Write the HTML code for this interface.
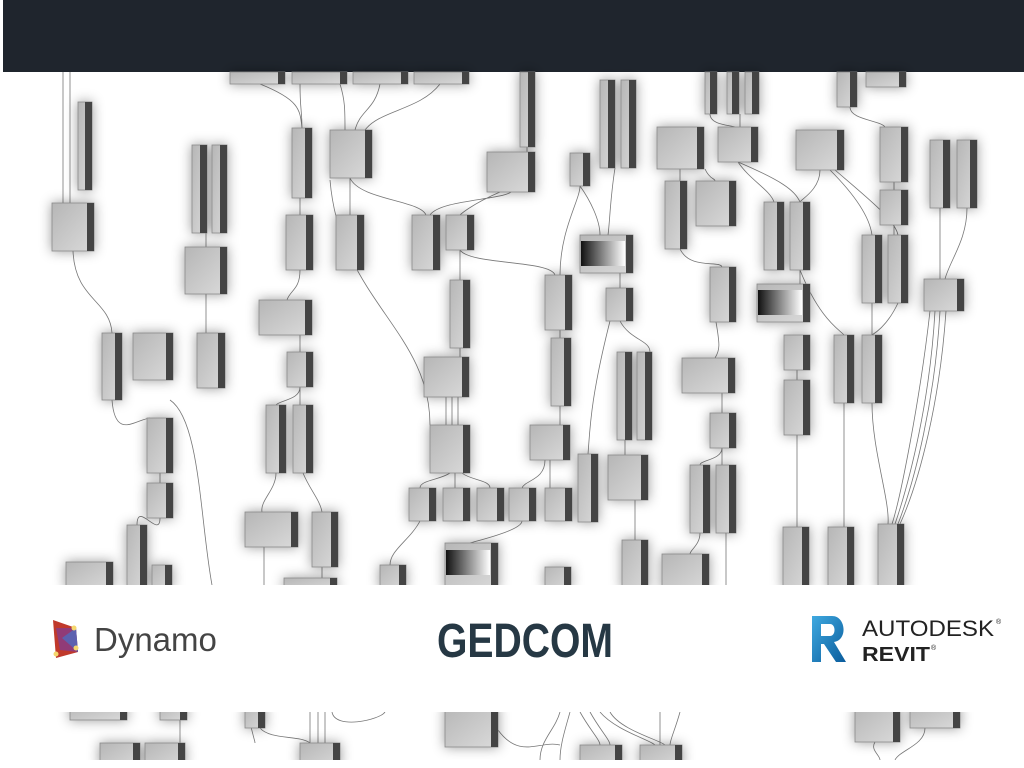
<!DOCTYPE html>
<html><head><meta charset="utf-8"><style>
html,body{margin:0;padding:0;background:#fff;width:1024px;height:768px;overflow:hidden;font-family:"Liberation Sans",sans-serif}
</style></head><body>
<svg width="1024" height="768" viewBox="0 0 1024 768" xmlns="http://www.w3.org/2000/svg">
<defs>
<linearGradient id="g" x1="0" y1="0" x2="1" y2="1"><stop offset="0" stop-color="#b6b6b6"/><stop offset="1" stop-color="#dadada"/></linearGradient>
<linearGradient id="bw" x1="0" y1="0" x2="1" y2="0"><stop offset="0" stop-color="#111"/><stop offset="1" stop-color="#fff"/></linearGradient>
<filter id="s" x="-50%" y="-50%" width="200%" height="200%"><feDropShadow dx="0" dy="0" stdDeviation="6" flood-color="#000" flood-opacity="0.4"/></filter>
<linearGradient id="rv" x1="0" y1="0" x2="1" y2="1"><stop offset="0" stop-color="#3fa9e0"/><stop offset="1" stop-color="#0a5c9c"/></linearGradient>
</defs>
<rect x="3" y="0" width="1021" height="72" fill="#1f252d"/>
<g fill="none" stroke="#777" stroke-width="0.8">
<path d="M63 72V203M70 72V203"/>
<path d="M73 251C75 300 110 300 112 333M206 233V247M206 294V333M112 400C115 440 135 420 150 418M160 473V483M160 518C160 540 137 500 137 525M170 400C200 420 200 520 212 585"/>
<path d="M300 84C300 110 302 110 302 128M260 84C300 100 300 110 302 128M340 84C345 100 345 110 345 130M380 84C375 110 360 110 355 130M440 84C420 110 380 110 365 130M300 198V215M350 178V215M350 178C360 200 420 200 426 215M300 270C300 290 290 290 287 300M300 335V352M300 387C300 400 280 400 276 405M300 387V405M276 473C276 490 260 500 262 512M303 473C310 490 320 500 322 512M264 547V585M322 567V585M330 180C340 300 430 330 430 425"/>
<path d="M527 147V152M511 192C500 200 440 200 430 215M500 192C470 205 460 215 460 215M460 250C460 270 460 270 460 280M460 250C470 265 550 260 555 275M460 348V357M446 397V425M452 397V425M458 397V425M450 473C440 480 420 480 420 488M455 473V488M462 473C470 480 490 480 490 488M545 460C545 480 525 480 522 488M550 460V488M522 521C522 530 480 540 470 543M420 521C410 540 390 550 390 565M580 186C580 200 560 230 560 275M560 330V338M560 406V425M580 186C590 200 600 220 600 235M615 168C610 200 610 220 608 235M620 273V288M620 321C630 340 650 340 650 352M610 321C590 400 590 430 588 454M625 440V455M635 500V540"/>
<path d="M680 169V181M710 114C710 125 730 125 735 127M740 114V127M705 169C710 180 715 178 715 181M738 162C750 180 770 190 774 202M738 162C780 180 795 190 800 202M680 249C690 270 720 260 722 267M716 322C720 345 720 350 715 358M722 393V413M722 448C722 460 700 460 700 465M722 448V465M820 170C820 190 800 200 800 202M830 170C860 200 870 220 872 235M835 170C870 200 895 220 898 235M894 182V190M894 225V235M850 107C850 120 880 120 885 127M800 270V284M800 270C820 320 840 330 844 335M872 303V335M898 303C890 320 880 330 872 335M797 370V380M940 208V279M967 208C967 240 950 260 945 279M930 311C920 400 900 500 892 524M935 311C930 400 910 480 895 524M940 311C935 400 915 480 898 524M946 311C940 400 920 480 900 524M797 435V527M844 403V527M872 403C872 450 890 500 888 524M700 533C700 545 690 550 690 554M726 533V585"/>
<path d="M180 720V743M250 720C252 735 255 740 255 743M260 728C270 740 300 735 310 743M310 712V743M318 712V743M325 712V743M332 712C335 730 380 720 385 712M560 712C555 730 540 740 540 760M570 712C565 730 560 745 560 760M580 712C590 730 600 740 600 745M590 712C600 730 610 740 610 745M600 712C615 730 650 740 655 745M610 712C620 730 660 740 665 745M660 712V745M680 712C675 730 670 740 670 745M875 742C870 750 880 755 880 760M925 728C925 745 900 750 895 760M498 730C520 760 540 740 560 745"/>
</g>
<g stroke="#8a8a8a" stroke-width="0.8" filter="url(#s)">
<rect x="78" y="102" width="14" height="88" fill="url(#g)"/><rect x="52" y="203" width="42" height="48" fill="url(#g)"/>
<rect x="230" y="72" width="55" height="12" fill="url(#g)"/><rect x="292" y="72" width="55" height="12" fill="url(#g)"/><rect x="353" y="72" width="55" height="12" fill="url(#g)"/><rect x="414" y="72" width="55" height="12" fill="url(#g)"/>
<rect x="292" y="128" width="20" height="70" fill="url(#g)"/><rect x="330" y="130" width="42" height="48" fill="url(#g)"/>
<rect x="520" y="72" width="15" height="75" fill="url(#g)"/><rect x="487" y="152" width="48" height="40" fill="url(#g)"/><rect x="570" y="153" width="20" height="33" fill="url(#g)"/>
<rect x="600" y="80" width="15" height="88" fill="url(#g)"/><rect x="621" y="80" width="15" height="88" fill="url(#g)"/>
<rect x="705" y="72" width="12" height="42" fill="url(#g)"/><rect x="727" y="72" width="12" height="42" fill="url(#g)"/><rect x="745" y="72" width="14" height="42" fill="url(#g)"/>
<rect x="657" y="127" width="47" height="42" fill="url(#g)"/><rect x="718" y="127" width="40" height="35" fill="url(#g)"/>
<rect x="837" y="72" width="20" height="35" fill="url(#g)"/><rect x="866" y="72" width="40" height="15" fill="url(#g)"/>
<rect x="880" y="127" width="28" height="55" fill="url(#g)"/><rect x="930" y="140" width="20" height="68" fill="url(#g)"/><rect x="957" y="140" width="20" height="68" fill="url(#g)"/>
<rect x="796" y="130" width="48" height="40" fill="url(#g)"/>
<rect x="192" y="145" width="15" height="88" fill="url(#g)"/><rect x="212" y="145" width="15" height="88" fill="url(#g)"/><rect x="185" y="247" width="42" height="47" fill="url(#g)"/>
<rect x="286" y="215" width="27" height="55" fill="url(#g)"/><rect x="336" y="215" width="28" height="55" fill="url(#g)"/><rect x="412" y="215" width="28" height="55" fill="url(#g)"/><rect x="446" y="215" width="28" height="35" fill="url(#g)"/>
<rect x="665" y="181" width="22" height="68" fill="url(#g)"/><rect x="696" y="181" width="40" height="45" fill="url(#g)"/>
<rect x="580" y="235" width="53" height="38" fill="url(#g)"/>
<rect x="545" y="275" width="27" height="55" fill="url(#g)"/><rect x="606" y="288" width="27" height="33" fill="url(#g)"/><rect x="450" y="280" width="20" height="68" fill="url(#g)"/>
<rect x="764" y="202" width="20" height="68" fill="url(#g)"/><rect x="790" y="202" width="20" height="68" fill="url(#g)"/><rect x="880" y="190" width="28" height="35" fill="url(#g)"/>
<rect x="862" y="235" width="20" height="68" fill="url(#g)"/><rect x="888" y="235" width="20" height="68" fill="url(#g)"/>
<rect x="757" y="284" width="53" height="38" fill="url(#g)"/><rect x="710" y="267" width="26" height="55" fill="url(#g)"/><rect x="924" y="279" width="40" height="32" fill="url(#g)"/>
<rect x="102" y="333" width="20" height="67" fill="url(#g)"/><rect x="133" y="333" width="40" height="47" fill="url(#g)"/><rect x="197" y="333" width="28" height="55" fill="url(#g)"/>
<rect x="259" y="300" width="53" height="35" fill="url(#g)"/><rect x="287" y="352" width="26" height="35" fill="url(#g)"/><rect x="424" y="357" width="45" height="40" fill="url(#g)"/>
<rect x="551" y="338" width="20" height="68" fill="url(#g)"/><rect x="682" y="358" width="53" height="35" fill="url(#g)"/><rect x="784" y="335" width="26" height="35" fill="url(#g)"/>
<rect x="834" y="335" width="20" height="68" fill="url(#g)"/><rect x="862" y="335" width="20" height="68" fill="url(#g)"/><rect x="784" y="380" width="26" height="55" fill="url(#g)"/>
<rect x="617" y="352" width="15" height="88" fill="url(#g)"/><rect x="637" y="352" width="15" height="88" fill="url(#g)"/>
<rect x="266" y="405" width="20" height="68" fill="url(#g)"/><rect x="293" y="405" width="20" height="68" fill="url(#g)"/><rect x="147" y="418" width="26" height="55" fill="url(#g)"/>
<rect x="430" y="425" width="40" height="48" fill="url(#g)"/><rect x="530" y="425" width="40" height="35" fill="url(#g)"/><rect x="710" y="413" width="26" height="35" fill="url(#g)"/>
<rect x="578" y="454" width="20" height="68" fill="url(#g)"/><rect x="608" y="455" width="40" height="45" fill="url(#g)"/><rect x="147" y="483" width="26" height="35" fill="url(#g)"/>
<rect x="690" y="465" width="20" height="68" fill="url(#g)"/><rect x="716" y="465" width="20" height="68" fill="url(#g)"/>
<rect x="409" y="488" width="27" height="33" fill="url(#g)"/><rect x="443" y="488" width="27" height="33" fill="url(#g)"/><rect x="477" y="488" width="27" height="33" fill="url(#g)"/><rect x="509" y="488" width="27" height="33" fill="url(#g)"/><rect x="545" y="488" width="27" height="33" fill="url(#g)"/>
<rect x="245" y="512" width="53" height="35" fill="url(#g)"/><rect x="312" y="512" width="26" height="55" fill="url(#g)"/><rect x="127" y="525" width="20" height="65" fill="url(#g)"/>
<rect x="152" y="565" width="20" height="25" fill="url(#g)"/><rect x="66" y="562" width="47" height="28" fill="url(#g)"/><rect x="284" y="578" width="53" height="12" fill="url(#g)"/>
<rect x="380" y="565" width="26" height="25" fill="url(#g)"/><rect x="445" y="543" width="53" height="47" fill="url(#g)"/><rect x="545" y="567" width="26" height="23" fill="url(#g)"/>
<rect x="622" y="540" width="26" height="50" fill="url(#g)"/><rect x="662" y="554" width="47" height="36" fill="url(#g)"/>
<rect x="783" y="527" width="26" height="63" fill="url(#g)"/><rect x="828" y="527" width="26" height="63" fill="url(#g)"/><rect x="878" y="524" width="26" height="66" fill="url(#g)"/>
<rect x="70" y="705" width="57" height="15" fill="url(#g)"/><rect x="160" y="705" width="27" height="15" fill="url(#g)"/><rect x="245" y="705" width="20" height="23" fill="url(#g)"/>
<rect x="445" y="705" width="53" height="42" fill="url(#g)"/><rect x="855" y="705" width="45" height="37" fill="url(#g)"/><rect x="910" y="705" width="50" height="23" fill="url(#g)"/>
<rect x="100" y="743" width="40" height="25" fill="url(#g)"/><rect x="145" y="743" width="40" height="25" fill="url(#g)"/><rect x="300" y="743" width="40" height="25" fill="url(#g)"/>
<rect x="580" y="745" width="42" height="23" fill="url(#g)"/><rect x="640" y="745" width="42" height="23" fill="url(#g)"/>
</g>
<g fill="url(#bw)"><rect x="581" y="241" width="44" height="25"/><rect x="758" y="290" width="44" height="25"/><rect x="446" y="550" width="44" height="25"/></g>
<g fill="#444">
<rect x="85" y="102" width="7" height="88"/><rect x="87" y="203" width="7" height="48"/>
<rect x="278" y="72" width="7" height="12"/><rect x="340" y="72" width="7" height="12"/><rect x="401" y="72" width="7" height="12"/><rect x="462" y="72" width="7" height="12"/>
<rect x="305" y="128" width="7" height="70"/><rect x="365" y="130" width="7" height="48"/><rect x="528" y="72" width="7" height="75"/><rect x="528" y="152" width="7" height="40"/><rect x="583" y="153" width="7" height="33"/>
<rect x="608" y="80" width="7" height="88"/><rect x="629" y="80" width="7" height="88"/><rect x="710" y="72" width="7" height="42"/><rect x="732" y="72" width="7" height="42"/><rect x="752" y="72" width="7" height="42"/>
<rect x="697" y="127" width="7" height="42"/><rect x="751" y="127" width="7" height="35"/><rect x="850" y="72" width="7" height="35"/><rect x="899" y="72" width="7" height="15"/>
<rect x="901" y="127" width="7" height="55"/><rect x="943" y="140" width="7" height="68"/><rect x="970" y="140" width="7" height="68"/><rect x="837" y="130" width="7" height="40"/>
<rect x="200" y="145" width="7" height="88"/><rect x="220" y="145" width="7" height="88"/><rect x="220" y="247" width="7" height="47"/>
<rect x="306" y="215" width="7" height="55"/><rect x="357" y="215" width="7" height="55"/><rect x="433" y="215" width="7" height="55"/><rect x="467" y="215" width="7" height="35"/>
<rect x="680" y="181" width="7" height="68"/><rect x="729" y="181" width="7" height="45"/><rect x="626" y="235" width="7" height="38"/>
<rect x="565" y="275" width="7" height="55"/><rect x="626" y="288" width="7" height="33"/><rect x="463" y="280" width="7" height="68"/>
<rect x="777" y="202" width="7" height="68"/><rect x="803" y="202" width="7" height="68"/><rect x="901" y="190" width="7" height="35"/>
<rect x="875" y="235" width="7" height="68"/><rect x="901" y="235" width="7" height="68"/><rect x="803" y="284" width="7" height="38"/><rect x="729" y="267" width="7" height="55"/><rect x="957" y="279" width="7" height="32"/>
<rect x="115" y="333" width="7" height="67"/><rect x="166" y="333" width="7" height="47"/><rect x="218" y="333" width="7" height="55"/>
<rect x="305" y="300" width="7" height="35"/><rect x="306" y="352" width="7" height="35"/><rect x="462" y="357" width="7" height="40"/>
<rect x="564" y="338" width="7" height="68"/><rect x="728" y="358" width="7" height="35"/><rect x="803" y="335" width="7" height="35"/>
<rect x="847" y="335" width="7" height="68"/><rect x="875" y="335" width="7" height="68"/><rect x="803" y="380" width="7" height="55"/>
<rect x="625" y="352" width="7" height="88"/><rect x="645" y="352" width="7" height="88"/>
<rect x="279" y="405" width="7" height="68"/><rect x="306" y="405" width="7" height="68"/><rect x="166" y="418" width="7" height="55"/>
<rect x="463" y="425" width="7" height="48"/><rect x="563" y="425" width="7" height="35"/><rect x="729" y="413" width="7" height="35"/>
<rect x="591" y="454" width="7" height="68"/><rect x="641" y="455" width="7" height="45"/><rect x="166" y="483" width="7" height="35"/>
<rect x="703" y="465" width="7" height="68"/><rect x="729" y="465" width="7" height="68"/>
<rect x="429" y="488" width="7" height="33"/><rect x="463" y="488" width="7" height="33"/><rect x="497" y="488" width="7" height="33"/><rect x="529" y="488" width="7" height="33"/><rect x="565" y="488" width="7" height="33"/>
<rect x="291" y="512" width="7" height="35"/><rect x="331" y="512" width="7" height="55"/><rect x="140" y="525" width="7" height="65"/>
<rect x="165" y="565" width="7" height="25"/><rect x="106" y="562" width="7" height="28"/><rect x="330" y="578" width="7" height="12"/>
<rect x="399" y="565" width="7" height="25"/><rect x="491" y="543" width="7" height="47"/><rect x="564" y="567" width="7" height="23"/>
<rect x="641" y="540" width="7" height="50"/><rect x="702" y="554" width="7" height="36"/>
<rect x="802" y="527" width="7" height="63"/><rect x="847" y="527" width="7" height="63"/><rect x="897" y="524" width="7" height="66"/>
<rect x="120" y="705" width="7" height="15"/><rect x="180" y="705" width="7" height="15"/><rect x="258" y="705" width="7" height="23"/>
<rect x="491" y="705" width="7" height="42"/><rect x="893" y="705" width="7" height="37"/><rect x="953" y="705" width="7" height="23"/>
<rect x="133" y="743" width="7" height="25"/><rect x="178" y="743" width="7" height="25"/><rect x="333" y="743" width="7" height="25"/>
<rect x="615" y="745" width="7" height="23"/><rect x="675" y="745" width="7" height="23"/>
</g>
<rect x="0" y="585" width="1024" height="127" fill="#fff"/>
<rect x="0" y="760" width="1024" height="8" fill="#fff"/>
<path d="M53 620 L76 628 L78 652 L56 658 Z" fill="#c0392b"/>
<path d="M56 628 L76 628 L78 652 L60 650 Z" fill="#7d3c98" opacity="0.7"/>
<path d="M62 638 L76 628 L78 652 Z" fill="#3a7bd5" opacity="0.6"/>
<circle cx="74" cy="628" r="2.5" fill="#f5d76e"/><circle cx="76" cy="648" r="2.5" fill="#f5d76e"/><circle cx="56" cy="654" r="2.5" fill="#f5d76e"/>
<text x="94" y="651" font-family="Liberation Sans, sans-serif" font-size="33" fill="#444">Dynamo</text>
<text x="437" y="657" font-family="Liberation Sans, sans-serif" font-weight="bold" font-size="48" fill="#263844" textLength="176" lengthAdjust="spacingAndGlyphs">GEDCOM</text>
<path d="M812 616 H832 C846 616 848 640 834 642 L846 662 H836 L824 644 H821 V662 H812 Z M821 624 V636 H830 C836 636 836 624 830 624 Z" fill="url(#rv)"/>
<text x="862" y="636" font-family="Liberation Sans, sans-serif" font-size="22" fill="#222" textLength="132" lengthAdjust="spacingAndGlyphs">AUTODESK</text>
<text x="996" y="624" font-family="Liberation Sans, sans-serif" font-size="7" fill="#222">®</text>
<text x="862" y="661" font-family="Liberation Sans, sans-serif" font-weight="bold" font-size="20" fill="#222" textLength="68" lengthAdjust="spacingAndGlyphs">REVIT</text>
<text x="931" y="650" font-family="Liberation Sans, sans-serif" font-size="7" fill="#222">®</text>
</svg>
</body></html>
